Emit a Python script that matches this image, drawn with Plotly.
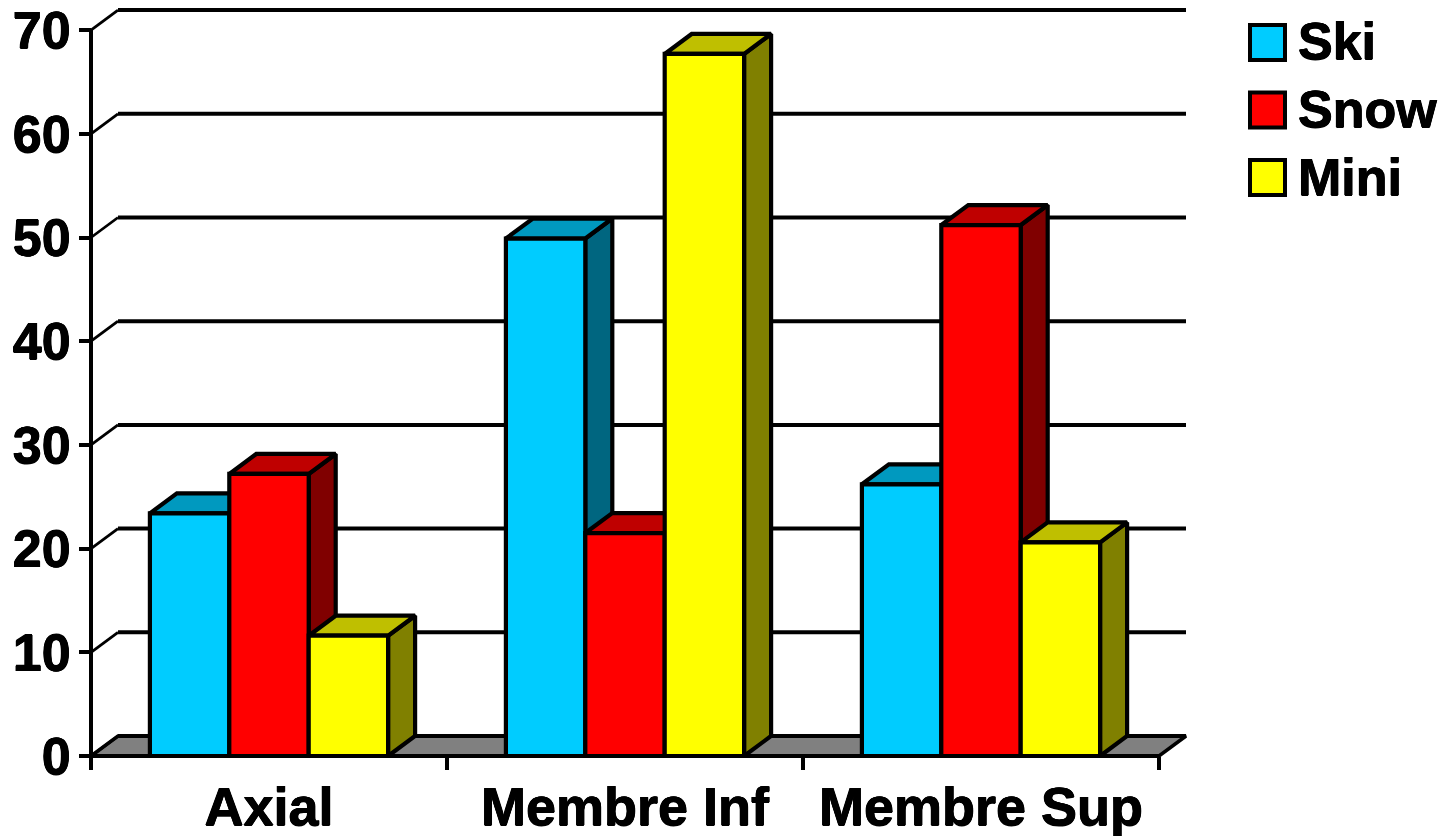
import plotly.graph_objects as go

categories = ["Axial", "Membre Inf", "Membre Sup"]
series_names = ["Ski", "Snow", "Mini"]
ski = [23.4, 49.9, 26.2]
snow = [27.2, 21.5, 51.2]
mini = [11.6, 67.7, 20.6]
y_ticks = [0, 10, 20, 30, 40, 50, 60, 70]

series_values = [ski, snow, mini]
front = ["#00CCFF", "#FF0000", "#FFFF00"]
top = ["#0099BF", "#BF0000", "#BFBF00"]
side = ["#006680", "#800000", "#808000"]

W, H = 1443, 836
X0, Y0 = 91.0, 756.0
PX_PER_CAT, PX_PER_UNIT = 356.0, 10.37
DEPTH_X = 27 / PX_PER_CAT
DEPTH_Y = 20 / PX_PER_UNIT
BAR_W = 79.4 / PX_PER_CAT
GROUP_PAD = (1 - 3 * BAR_W) / 2
LW = 4.2
FONT = "Liberation Sans, Arial, sans-serif"
HEAVY = "0.5px 0 0 #000, -0.5px 0 0 #000, 0 0.5px 0 #000, 0 -0.5px 0 #000"

L, R, T, B = 84, 1195, 4, 764
x_range = [(L - X0) / PX_PER_CAT, (R - X0) / PX_PER_CAT]
y_range = [(Y0 - B) / PX_PER_UNIT, (Y0 - T) / PX_PER_UNIT]

fig = go.Figure()


def poly(xs, ys, fill, name, width=LW):
    fig.add_trace(go.Scatter(x=xs, y=ys, mode="lines", fill="toself", fillcolor=fill,
                             line=dict(color="black", width=width), name=name,
                             hoverinfo="skip", showlegend=False))


def lines(xs, ys, width):
    fig.add_trace(go.Scatter(x=xs, y=ys, mode="lines", line=dict(color="black", width=width),
                             hoverinfo="skip", showlegend=False))


n = len(categories)
# floor
poly([0, DEPTH_X, n + DEPTH_X, n, 0], [0, DEPTH_Y, DEPTH_Y, 0, 0], "#808080", "floor", 3.5)

# wall gridlines and their diagonals
hx, hy, dx, dy = [], [], [], []
for v in y_ticks:
    hx += [DEPTH_X, n + DEPTH_X, None]
    hy += [v + DEPTH_Y, v + DEPTH_Y, None]
    dx += [0, DEPTH_X, None]
    dy += [v, v + DEPTH_Y, None]
lines(hx, hy, 4)
lines(dx, dy, 2.8)

# axis lines
lines([0, 0], [0, max(y_ticks)], 4)
lines([0, n], [0, 0], 4)

# bars: painter's order, left to right
for c in range(n):
    for s, vals in enumerate(series_values):
        v = vals[c]
        a = c + GROUP_PAD + s * BAR_W
        b = a + BAR_W
        name = series_names[s]
        poly([b, b + DEPTH_X, b + DEPTH_X, b, b], [0, DEPTH_Y, v + DEPTH_Y, v, 0], side[s], name)
        poly([a, a + DEPTH_X, b + DEPTH_X, b, a], [v, v + DEPTH_Y, v + DEPTH_Y, v, v], top[s], name)
        poly([a, b, b, a, a], [0, 0, v, v, 0], front[s], name)

# legend
shapes, annotations = [], []
for i, name in enumerate(series_names):
    yc = 42.5 + 67.5 * i
    shapes.append(dict(type="rect", xref="paper", yref="paper",
                       x0=1250 / W, x1=1285 / W, y0=1 - (yc - 17.5) / H, y1=1 - (yc + 17.5) / H,
                       fillcolor=front[i], line=dict(color="black", width=4)))
    annotations.append(dict(xref="paper", yref="paper", x=1296 / W, y=1 - (yc - 1) / H, text=name,
                            showarrow=False, xanchor="left", yanchor="middle",
                            font=dict(family=FONT, size=52, color="black", weight="bold",
                                      shadow=HEAVY)))

fig.update_layout(
    width=W, height=H, autosize=False, margin=dict(l=0, r=0, t=0, b=0),
    paper_bgcolor="white", plot_bgcolor="white", showlegend=False,
    shapes=shapes, annotations=annotations,
    xaxis=dict(domain=[L / W, R / W], range=x_range, anchor="free", position=1 - Y0 / H,
               automargin=False,
               tickmode="array", tickvals=[i + 0.5 for i in range(n)], ticktext=categories,
               ticks="", ticklen=0, showgrid=False, zeroline=False, showline=False,
               tickfont=dict(family=FONT, size=54, color="black", weight="bold", shadow=HEAVY),
               ticklabelstandoff=14,
               minor=dict(tickmode="array", tickvals=list(range(n + 1)), ticks="outside",
                          ticklen=13, tickwidth=4, tickcolor="black", showgrid=False)),
    yaxis=dict(domain=[1 - B / H, 1 - T / H], range=y_range, anchor="free", position=X0 / W,
               automargin=False,
               tickmode="array", tickvals=y_ticks, ticks="outside", ticklen=12, tickwidth=4,
               tickcolor="black", showgrid=False, zeroline=False, showline=False,
               ticklabelstandoff=-2,
               tickfont=dict(family=FONT, size=52, color="black", weight="bold", shadow=HEAVY)),
)

fig.write_html("out.html", config={"displayModeBar": False},
               post_script="document.body.style.margin='0';")
